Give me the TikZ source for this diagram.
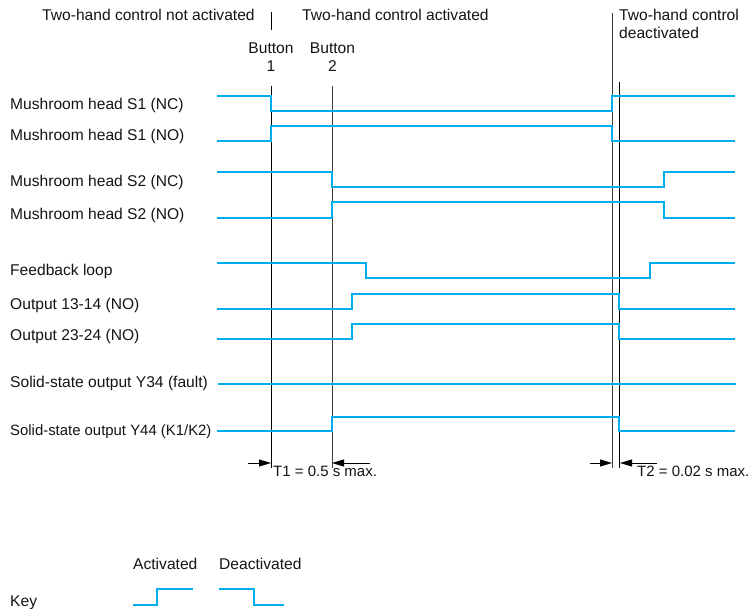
\documentclass[tikz,border=0pt]{standalone}
\usepackage{fontspec}
\setmainfont{Liberation Sans}
\usetikzlibrary{arrows.meta}
\definecolor{sigblue}{RGB}{0,174,239}
\definecolor{txtgray}{RGB}{20,20,20}
\begin{document}
\begin{tikzpicture}[x=1pt,y=-1pt,
  lbl/.style={inner sep=0pt,anchor=base west,text=txtgray,font=\fontsize{15.6}{18}\selectfont},
  clbl/.style={inner sep=0pt,anchor=base,text=txtgray,font=\fontsize{15.6}{18}\selectfont},
  tlbl/.style={inner sep=0pt,anchor=base west,text=txtgray,font=\fontsize{15}{18}\selectfont},
  sig/.style={draw=sigblue,line width=2.9pt,line join=miter},
  vline/.style={draw=black,line width=0.9pt},
  vline2/.style={draw=black!75,line width=0.9pt},
  dim/.style={draw=black,line width=0.9pt,-{Triangle[length=12pt,width=7pt]}}]
\useasboundingbox (0,0) rectangle (752,609);

% header texts
\node[lbl] (hnot) at (42,21) {Two-hand control not activated};
\node[lbl] (hact) at (302,21) {Two-hand control activated};
\node[lbl] (hdea1) at (619,21) {Two-hand control};
\node[lbl] (hdea2) at (619,39) {deactivated};
\node[clbl] (b1a) at (271,54) {Button};
\node[clbl] (b1b) at (271,72) {1};
\node[clbl] (b2a) at (332.5,54) {Button};
\node[clbl] (b2b) at (332.5,72) {2};

% left labels
\node[lbl] (l1) at (10,110) {Mushroom head S1 (NC)};
\node[lbl] (l2) at (10,141) {Mushroom head S1 (NO)};
\node[lbl] (l3) at (10,187) {Mushroom head S2 (NC)};
\node[lbl] (l4) at (10,220) {Mushroom head S2 (NO)};
\node[lbl] (l5) at (10,276) {Feedback loop};
\node[lbl] (l6) at (10,310) {Output 13-14 (NO)};
\node[lbl] (l7) at (10,341) {Output 23-24 (NO)};
\node[lbl] (l8) at (10,388) {Solid-state output Y34 (fault)};
\node[lbl,font=\fontsize{14.9}{18}\selectfont] (l9) at (10,435) {Solid-state output Y44 (K1/K2)};

% vertical time markers
\coordinate (t0a) at (271,12);  \coordinate (t0b) at (271,30);
\coordinate (t1a) at (271,86);  \coordinate (t1b) at (271,468);
\coordinate (t2a) at (332,86);  \coordinate (t2b) at (332,468);
\coordinate (t3a) at (612,13);  \coordinate (t3b) at (612,468);
\coordinate (t4a) at (619.5,82); \coordinate (t4b) at (619.5,468);
\draw[vline] (t0a) -- (t0b);
\draw[vline] (t1a) -- (t1b);
\draw[vline2] (t2a) -- (t2b);
\draw[vline2] (t3a) -- (t3b);
\draw[vline] (t4a) -- (t4b);

% signals
\draw[sig] (217,96) -- (271,96) -- (271,111) -- (612,111) -- (612,96) -- (735,96);
\draw[sig] (217,141) -- (271,141) -- (271,126) -- (612,126) -- (612,141) -- (735,141);
\draw[sig] (217,172) -- (332,172) -- (332,187) -- (664,187) -- (664,172) -- (735,172);
\draw[sig] (217,218) -- (332,218) -- (332,202) -- (664,202) -- (664,218) -- (735,218);
\draw[sig] (217,263) -- (366,263) -- (366,278) -- (650,278) -- (650,263) -- (735,263);
\draw[sig] (217,309) -- (352,309) -- (352,294) -- (619,294) -- (619,309) -- (735,309);
\draw[sig] (217,339) -- (352,339) -- (352,324) -- (619,324) -- (619,339) -- (735,339);
\draw[sig] (218,384) -- (736,384);
\draw[sig] (217,431) -- (332,431) -- (332,417) -- (619,417) -- (619,431) -- (735,431);

% dimension arrows
\coordinate (d1s) at (248,463); \coordinate (d1e) at (271,463);
\coordinate (d2s) at (370,463); \coordinate (d2e) at (332,463);
\coordinate (d3s) at (590,463); \coordinate (d3e) at (612,463);
\coordinate (d4s) at (657,463); \coordinate (d4e) at (620,463);
\draw[dim] (d1s) -- (d1e);
\draw[dim] (d2s) -- (d2e);
\draw[dim] (d3s) -- (d3e);
\draw[dim] (d4s) -- (d4e);
\node[tlbl] (T1) at (273,476) {T1 = 0.5 s max.};
\node[tlbl] (T2) at (637,476) {T2 = 0.02 s max.};

% key
\node[lbl] (kact) at (133,569) {Activated};
\node[lbl] (kdea) at (219,569) {Deactivated};
\node[lbl] (key) at (10,606) {Key};
\draw[sig] (133,605) -- (157,605) -- (157,589) -- (193,589);
\draw[sig] (219,589) -- (254,589) -- (254,605) -- (284,605);
\end{tikzpicture}
\end{document}
